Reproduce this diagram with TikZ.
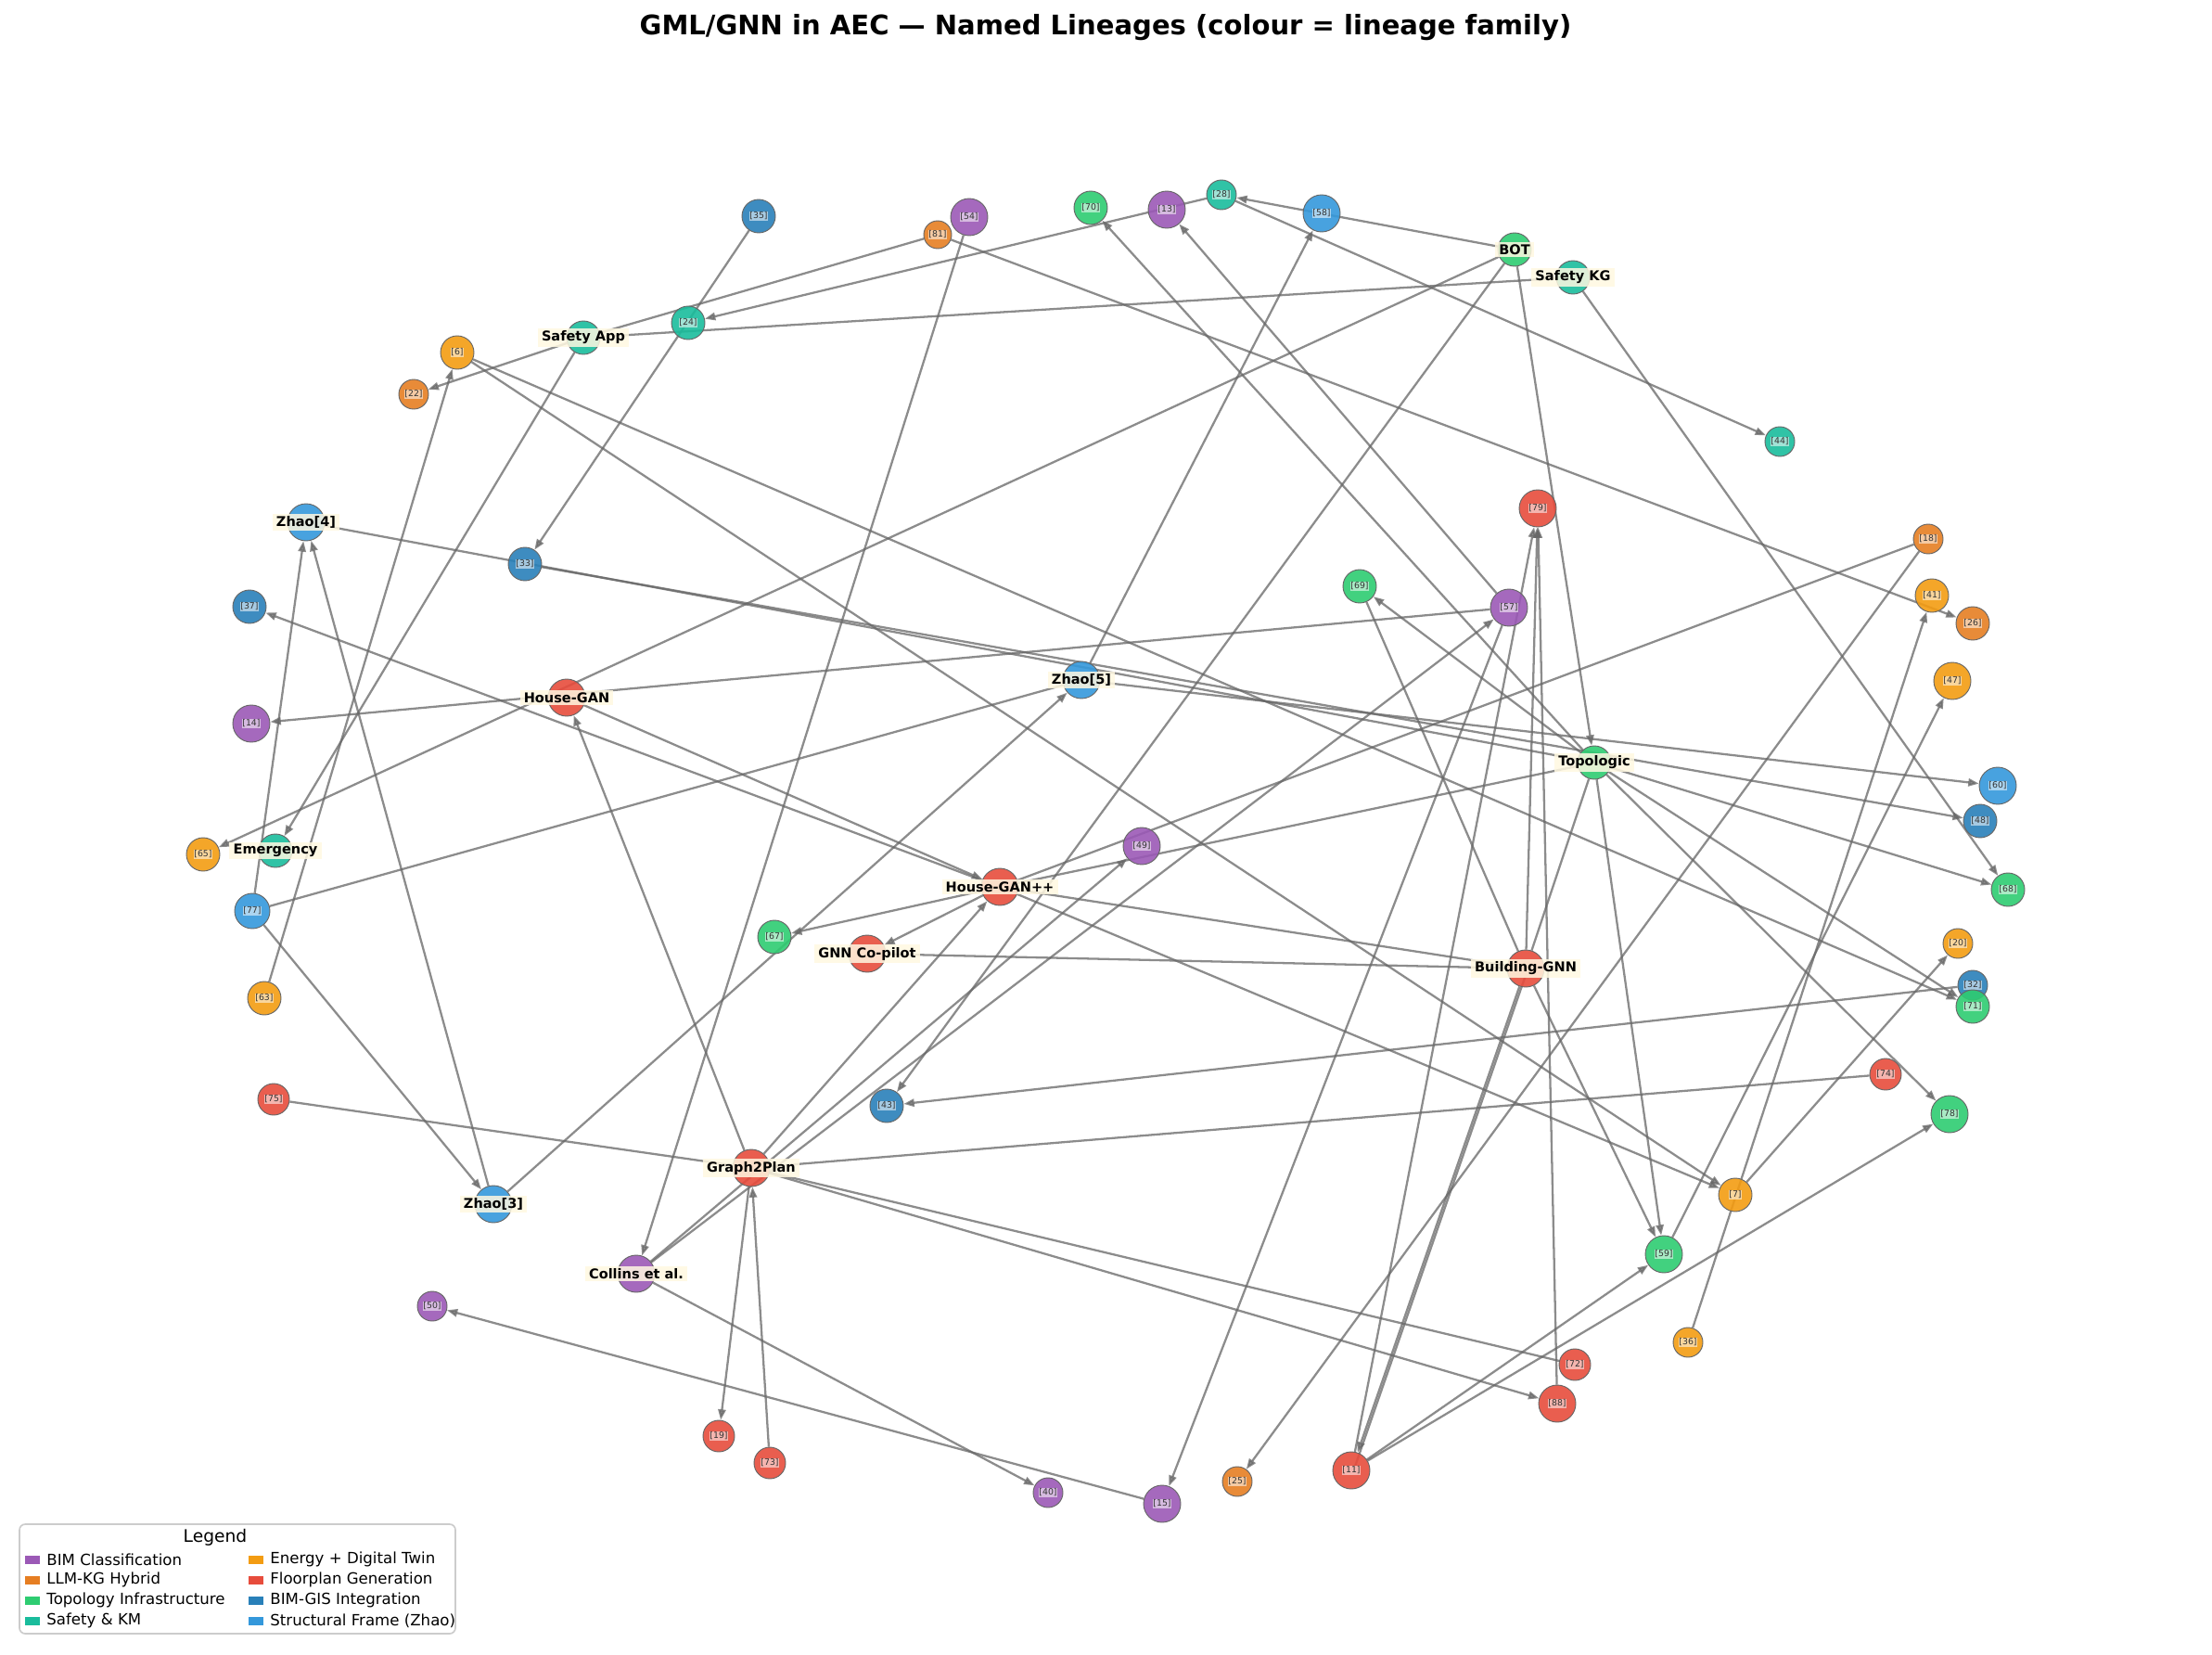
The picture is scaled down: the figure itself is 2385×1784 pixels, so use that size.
\documentclass[tikz,border=0pt]{standalone}
\usepackage{fontspec}
\setmainfont{DejaVu Sans}
\usetikzlibrary{arrows.meta}
\definecolor{cBIM}{HTML}{9B59B6}
\definecolor{cLLM}{HTML}{E67E22}
\definecolor{cTopo}{HTML}{2ECC71}
\definecolor{cSafe}{HTML}{1ABC9C}
\definecolor{cEnergy}{HTML}{F39C12}
\definecolor{cFloor}{HTML}{E74C3C}
\definecolor{cGIS}{HTML}{2980B9}
\definecolor{cZhao}{HTML}{3498DB}
\definecolor{cream}{HTML}{FFF8E1}
\pgfdeclarelayer{edges}
\pgfsetlayers{edges,main}
\tikzset{
  nd/.style={circle, draw=black!60, line width=0.45pt, fill opacity=0.9, inner sep=0pt},
  sl/.style={fill=white, fill opacity=0.55, text opacity=1, text=black!80, inner sep=0.4pt,
             font=\fontsize{4.5}{5}\selectfont},
  bl/.style={fill=cream, fill opacity=0.85, text opacity=1, text=black, inner xsep=2pt, inner ysep=1.2pt,
             font=\bfseries\fontsize{7}{8}\selectfont},
  edge/.style={draw=black!60, opacity=0.75, line width=1.1pt},
  arr/.style={edge, -{Triangle[length=5.5pt,width=4pt]}},
  lgt/.style={anchor=west, inner sep=0pt, font=\fontsize{8}{9}\selectfont}
}
\newcommand{\mkcirc}[6]{\node[nd, fill=#5, minimum size=#4*0.9636pt] (#1) at (#2,#3) {}; \node[sl] (#1t) at (#1) {[#6]};}
\newcommand{\mkbig}[5]{\node[nd, fill=#5, minimum size=#4*0.9636pt] (#1) at (#2,#3) {};}
\begin{document}
\begin{tikzpicture}[x=0.4818pt, y=-0.4818pt]
\useasboundingbox (0,0) rectangle (2385,1784);
\node[font=\bfseries\fontsize{14}{16}\selectfont] (title) at (1192,30) {GML/GNN in AEC — Named Lineages (colour = lineage family)};

% circles
\mkbig{SA}{629}{364}{18}{cSafe}
\mkcirc{n24}{742}{348}{18}{cSafe}{24}
\mkcirc{n6}{493}{380}{18}{cEnergy}{6}
\mkcirc{n22}{446}{425}{16}{cLLM}{22}
\mkbig{Z4}{330}{563}{20}{cZhao}
\mkcirc{n33}{566}{608}{18}{cGIS}{33}
\mkcirc{n37}{269}{654}{18}{cGIS}{37}
\mkcirc{n35}{818}{233}{18}{cGIS}{35}
\mkcirc{n54}{1045}{234}{20}{cBIM}{54}
\mkcirc{n81}{1011}{253}{15}{cLLM}{81}
\mkcirc{n70}{1176}{224}{18}{cTopo}{70}
\mkcirc{n13}{1258}{226}{20}{cBIM}{13}
\mkcirc{n28}{1317}{210}{16}{cSafe}{28}
\mkcirc{n58}{1425}{230}{20}{cZhao}{58}
\mkbig{BOT}{1633}{269}{18}{cTopo}
\mkbig{SKG}{1696}{299}{18}{cSafe}
\mkcirc{n79}{1658}{548}{20}{cFloor}{79}
\mkcirc{n69}{1466}{632}{18}{cTopo}{69}
\mkcirc{n57}{1627}{655}{20}{cBIM}{57}
\mkcirc{n44}{1919}{476}{16}{cSafe}{44}
\mkcirc{n18}{2079}{581}{16}{cLLM}{18}
\mkcirc{n41}{2083}{642}{18}{cEnergy}{41}
\mkcirc{n26}{2127}{672}{18}{cLLM}{26}
\mkbig{HG}{611}{752}{20}{cFloor}
\mkcirc{n14}{271}{780}{20}{cBIM}{14}
\mkcirc{n65}{219}{921}{18}{cEnergy}{65}
\mkbig{EM}{297}{917}{18}{cSafe}
\mkcirc{n77}{272}{982}{19}{cZhao}{77}
\mkcirc{n63}{285}{1076}{18}{cEnergy}{63}
\mkcirc{n75}{295}{1185}{17}{cFloor}{75}
\mkbig{Z5}{1166}{733}{20}{cZhao}
\mkcirc{n49}{1231}{912}{20}{cBIM}{49}
\mkbig{HGpp}{1078}{956}{20}{cFloor}
\mkcirc{n67}{835}{1010}{18}{cTopo}{67}
\mkbig{GCP}{935}{1028}{20}{cFloor}
\mkcirc{n43}{956}{1192}{18}{cGIS}{43}
\mkbig{TOP}{1719}{822}{18}{cTopo}
\mkbig{BGNN}{1645}{1044}{20}{cFloor}
\mkcirc{n47}{2105}{734}{20}{cEnergy}{47}
\mkcirc{n60}{2154}{847}{20}{cZhao}{60}
\mkcirc{n48}{2135}{885}{18}{cGIS}{48}
\mkcirc{n68}{2165}{959}{18}{cTopo}{68}
\mkcirc{n20}{2111}{1017}{16}{cEnergy}{20}
\mkcirc{n32}{2127}{1062}{16}{cGIS}{32}
\mkcirc{n71}{2127}{1085}{18}{cTopo}{71}
\mkcirc{n74}{2033}{1158}{17}{cFloor}{74}
\mkbig{Z3}{532}{1298}{20}{cZhao}
\mkbig{COL}{686}{1373}{20}{cBIM}
\mkcirc{n50}{466}{1408}{16}{cBIM}{50}
\mkbig{G2P}{810}{1259}{20}{cFloor}
\mkcirc{n19}{775}{1548}{17}{cFloor}{19}
\mkcirc{n73}{830}{1577}{17}{cFloor}{73}
\mkcirc{n40}{1130}{1609}{16}{cBIM}{40}
\mkcirc{n15}{1253}{1621}{20}{cBIM}{15}
\mkcirc{n59}{1794}{1352}{20}{cTopo}{59}
\mkcirc{n36}{1820}{1447}{16}{cEnergy}{36}
\mkcirc{n72}{1698}{1471}{17}{cFloor}{72}
\mkcirc{n88}{1679}{1513}{20}{cFloor}{88}
\mkcirc{n11}{1457}{1585}{20}{cFloor}{11}
\mkcirc{n25}{1334}{1597}{16}{cLLM}{25}
\mkcirc{n7}{1871}{1288}{18}{cEnergy}{7}
\mkcirc{n78}{2102}{1201}{20}{cTopo}{78}

% edges
\begin{pgfonlayer}{edges}
\draw[arr] (n35) -- (n33);
\draw[edge] (n81) -- (SA);
\draw[arr] (n81) -- (n26);
\draw[arr] (n54) -- (COL);
\draw[arr] (n28) -- (n24);
\draw[arr] (BOT) -- (n28);
\draw[arr] (n28) -- (n44);
\draw[edge] (SKG) -- (SA);
\draw[arr] (Z5) -- (n58);
\draw[arr] (BOT) -- (n65);
\draw[arr] (BOT) -- (n43);
\draw[arr] (BOT) -- (TOP);
\draw[arr] (SKG) -- (n68);
\draw[arr] (n57) -- (n13);
\draw[arr] (TOP) -- (n70);
\draw[arr] (SA) -- (n22);
\draw[arr] (SA) -- (EM);
\draw[arr] (n6) -- (n71);
\draw[arr] (n6) -- (n7);
\draw[arr] (n63) -- (n6);
\draw[edge] (Z4) -- (TOP);
\draw[arr] (n33) -- (n48);
\draw[arr] (Z5) -- (n60);
\draw[arr] (TOP) -- (n68);
\draw[arr] (HGpp) -- (n37);
\draw[arr] (n77) -- (Z4);
\draw[arr] (Z3) -- (Z4);
\draw[arr] (n77) -- (Z3);
\draw[edge] (n77) -- (Z5);
\draw[arr] (Z3) -- (Z5);
\draw[arr] (n57) -- (n14);
\draw[arr] (HG) -- (HGpp);
\draw[arr] (G2P) -- (HG);
\draw[arr] (HGpp) -- (n67);
\draw[arr] (HGpp) -- (GCP);
\draw[arr] (G2P) -- (HGpp);
\draw[edge] (GCP) -- (BGNN);
\draw[arr] (n32) -- (n43);
\draw[edge] (n75) -- (G2P);
\draw[edge] (n74) -- (G2P);
\draw[arr] (G2P) -- (n19);
\draw[arr] (n73) -- (G2P);
\draw[edge] (n72) -- (G2P);
\draw[arr] (G2P) -- (n88);
\draw[arr] (COL) -- (n49);
\draw[arr] (COL) -- (n57);
\draw[arr] (COL) -- (n40);
\draw[arr] (n15) -- (n50);
\draw[arr] (n11) -- (n59);
\draw[arr] (n11) -- (n78);
\draw[arr] (n18) -- (n25);
\draw[arr] (n57) -- (n15);
\draw[arr] (n11) -- (n79);
\draw[arr] (BGNN) -- (n79);
\draw[arr] (n88) -- (n79);
\draw[arr] (BGNN) -- (n11);
\draw[edge] ([xshift=1.2pt]BGNN.center) -- ([xshift=1.2pt]n11.center);
\draw[edge] (HGpp) -- (TOP);
\draw[edge] (HGpp) -- (BGNN);
\draw[edge] (HGpp) -- (n18);
\draw[arr] (HGpp) -- (n7);
\draw[arr] (TOP) -- (n69);
\draw[edge] (BGNN) -- (n69);
\draw[edge] (BGNN) -- (TOP);
\draw[arr] (TOP) -- (n59);
\draw[arr] (BGNN) -- (n59);
\draw[arr] (TOP) -- (n78);
\draw[arr] (TOP) -- (n71);
\draw[arr] (n7) -- (n20);
\draw[arr] (n36) -- (n41);
\draw[arr] (n59) -- (n47);
\end{pgfonlayer}

% bold labels
\node[bl] (SAl) at (SA) {Safety App};
\node[bl] (Z4l) at (Z4) {Zhao[4]};
\node[bl] (BOTl) at (BOT) {BOT};
\node[bl] (SKGl) at (SKG) {Safety KG};
\node[bl] (HGl) at (HG) {House-GAN};
\node[bl] (EMl) at (EM) {Emergency};
\node[bl] (Z5l) at (Z5) {Zhao[5]};
\node[bl] (HGppl) at (HGpp) {House-GAN++};
\node[bl] (GCPl) at (GCP) {GNN Co-pilot};
\node[bl] (TOPl) at (TOP) {Topologic};
\node[bl] (BGNNl) at (BGNN) {Building-GNN};
\node[bl] (Z3l) at (Z3) {Zhao[3]};
\node[bl] (COLl) at (COL) {Collins et al.};
\node[bl] (G2Pl) at (G2P) {Graph2Plan};

% legend
\draw[black!20, line width=0.8pt, rounded corners=3pt, fill=white] (21,1643) rectangle (491,1761);
\node[font=\fontsize{9}{10}\selectfont] (lgtitle) at (232,1657) {Legend};
\fill[cBIM] (27,1677) rectangle (43,1686); \node[lgt] (lg1) at (50,1681) {BIM Classification};
\fill[cLLM] (27,1699) rectangle (43,1708); \node[lgt] (lg2) at (50,1703) {LLM-KG Hybrid};
\fill[cTopo] (27,1721) rectangle (43,1730); \node[lgt] (lg3) at (50,1725) {Topology Infrastructure};
\fill[cSafe] (27,1743) rectangle (43,1752); \node[lgt] (lg4) at (50,1747) {Safety \& KM};
\fill[cEnergy] (268,1677) rectangle (284,1686); \node[lgt] (lg5) at (291,1681) {Energy + Digital Twin};
\fill[cFloor] (268,1699) rectangle (284,1708); \node[lgt] (lg6) at (291,1703) {Floorplan Generation};
\fill[cGIS] (268,1721) rectangle (284,1730); \node[lgt] (lg7) at (291,1725) {BIM-GIS Integration};
\fill[cZhao] (268,1743) rectangle (284,1752); \node[lgt] (lg8) at (291,1747) {Structural Frame (Zhao)};
\end{tikzpicture}
\end{document}
